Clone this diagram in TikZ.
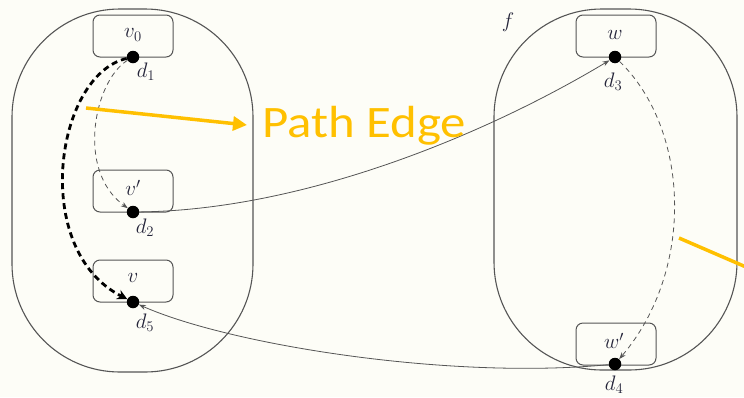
\RequirePackage{fix-cm}
\documentclass[tikz,border=0pt]{standalone}
\usepackage{fontspec}
\newfontfamily\carlito{Carlito}
\usetikzlibrary{arrows.meta}
\definecolor{bgc}{HTML}{FDFDF7}
\definecolor{linec}{HTML}{555555}
\definecolor{txtc}{HTML}{25253A}
\definecolor{ylw}{HTML}{FFC000}
\tikzset{
  capsule/.style={draw=linec, line width=1.1pt, rounded corners=108pt},
  vbox/.style={draw=linec, line width=1pt, rounded corners=7pt, minimum width=80pt, minimum height=42pt, inner sep=0pt},
  dot/.style={circle, fill=black, minimum size=12.5pt, inner sep=0pt},
  lab/.style={text=txtc, font=\fontsize{21}{24}\selectfont, inner sep=0pt},
  thinarrow/.style={draw=linec, line width=0.8pt, -{Stealth[length=7pt,width=5pt]}},
  thindash/.style={thinarrow, dash pattern=on 5pt off 4pt},
  thickdash/.style={draw=black, line width=2.8pt, dash pattern=on 6pt off 4pt, -{Stealth[length=10pt,width=10pt]}},
  yarrow/.style={draw=ylw, line width=3.5pt, -{Triangle[length=14pt,width=14pt]}},
  yline/.style={draw=ylw, line width=3.5pt},
}
\begin{document}
\begin{tikzpicture}[x=1pt, y=-1pt]
\fill[bgc] (0,0) rectangle (744,397);
\useasboundingbox (0,0) rectangle (744,397);
% capsules
\draw[capsule] (12,9) rectangle (253,372);
\draw[capsule] (494,9) rectangle (737,370);
\node[lab] (f) at (508,22) {$f$};
% boxes
\node[vbox] (v0) at (133,36) {};
\node[vbox] (vp) at (133,191) {};
\node[vbox] (v) at (133,281) {};
\node[vbox] (w) at (616,36) {};
\node[vbox] (wp) at (616,344) {};
\node[lab] (tv0) at (133,35) {$v_0$};
\node[lab] (tvp) at (133,188) {$v'$};
\node[lab] (tv) at (133,278) {$v$};
\node[lab] (tw) at (615,35) {$w$};
\node[lab] (twp) at (614,341) {$w'$};
% dots
\node[dot] (d1) at (133,57) {};
\node[dot] (d2) at (133,212) {};
\node[dot] (d5) at (133,302) {};
\node[dot] (d3) at (615,57) {};
\node[dot] (d4) at (615,364) {};
\node[lab] (ld1) at (146,72) {$d_1$};
\node[lab] (ld2) at (145,228) {$d_2$};
\node[lab] (ld5) at (145,323) {$d_5$};
\node[lab] (ld3) at (613,82) {$d_3$};
\node[lab] (ld4) at (614,385) {$d_4$};
% connectors
\draw[thickdash] (d1) .. controls (55,75) and (30,250) .. (d5);
\draw[thindash] (d1) .. controls (95,80) and (75,170) .. (d2);
\draw[thinarrow] (d2) .. controls (300,210) and (480,138) .. (d3);
\draw[thinarrow] (d4) .. controls (450,380) and (230,345) .. (d5);
\draw[thindash] (d3) .. controls (690,130) and (695,270) .. (d4);
% annotations
\coordinate (ya) at (86,108);
\coordinate (yb) at (247,125);
\draw[yarrow] (ya) -- (yb);
\node[text=ylw, font=\carlito\fontsize{45}{50}\selectfont, inner sep=0pt, anchor=base, xscale=1.13] (pe) at (364,137) {Path Edge};
\coordinate (yc) at (679,238);
\coordinate (yd) at (746,267);
\draw[yline] (yc) -- (yd);
\end{tikzpicture}
\end{document}
